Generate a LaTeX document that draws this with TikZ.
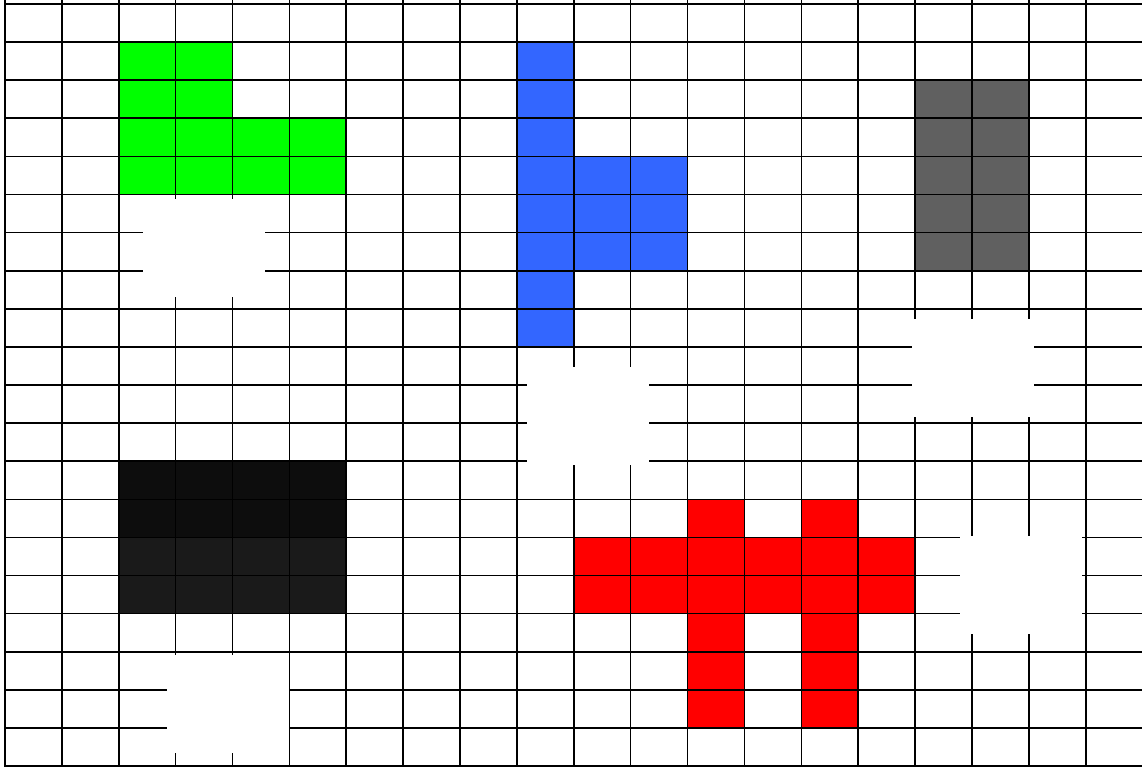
\documentclass[tikz,border=0pt]{standalone}
\begin{document}
\begin{tikzpicture}[
  gridline/.style={line width=1.6pt, black},
  blank/.style={fill=white, draw=none, inner sep=0pt, minimum width=122pt, minimum height=98pt}
]
\definecolor{cgreen}{HTML}{00FF00}
\definecolor{cblue}{HTML}{3366FF}
\definecolor{cgray}{HTML}{606060}
\definecolor{cblackA}{HTML}{0D0D0D}
\definecolor{cblackB}{HTML}{1A1A1A}
\definecolor{cred}{HTML}{FF0000}
\useasboundingbox (0pt,0pt) rectangle (1142pt,-767pt);
\begin{scope}[shift={(5pt,-4pt)}, x=56.88pt, y=-38.1pt]
  % green L
  \fill[cgreen] (2,1) rectangle (4,3);
  \fill[cgreen] (2,3) rectangle (6,5);
  % blue
  \fill[cblue] (9,1) rectangle (10,9);
  \fill[cblue] (10,4) rectangle (12,7);
  % gray
  \fill[cgray] (16,2) rectangle (18,7);
  % black
  \fill[cblackA] (2,12) rectangle (6,14);
  \fill[cblackB] (2,14) rectangle (6,16);
  % red
  \fill[cred] (12,13) rectangle (13,19);
  \fill[cred] (14,13) rectangle (15,19);
  \fill[cred] (10,14) rectangle (16,16);
  % grid
  \foreach \j in {0,...,20} \draw[gridline] (0,\j) -- (20.2,\j);
  \foreach \i in {0,...,19} \draw[gridline] (\i,-0.1) -- (\i,20.1);
\end{scope}
\node[blank] (b1) at (204pt,-248pt) {};
\node[blank] (b2) at (588pt,-416pt) {};
\node[blank] (b3) at (972.5pt,-368pt) {};
\node[blank] (b4) at (1021pt,-584.5pt) {};
\node[blank] (b5) at (227.5pt,-703.5pt) {};
\end{tikzpicture}
\end{document}
